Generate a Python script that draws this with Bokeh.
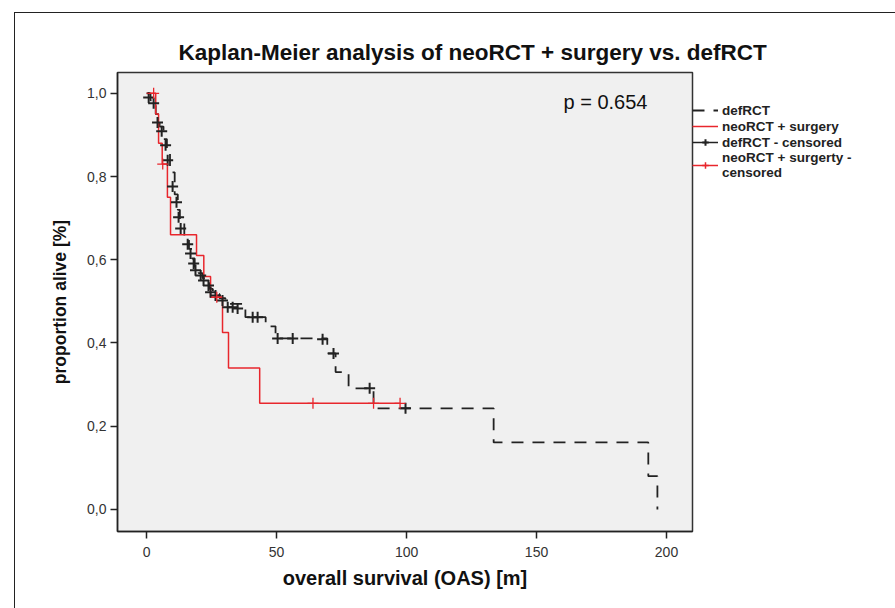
from bokeh.plotting import figure
from bokeh.models import (Range1d, FixedTicker, Label, Legend, LegendItem, InlineStyleSheet)
from bokeh.embed import file_html
from bokeh.resources import INLINE

# ---------------- data ----------------
title_text = "Kaplan-Meier analysis of neoRCT + surgery vs. defRCT"
x_label = "overall survival (OAS) [m]"
y_label = "proportion alive [%]"
p_text = "p = 0.654"

x_ticks = [0, 50, 100, 150, 200]
y_ticks = [0.0, 0.2, 0.4, 0.6, 0.8, 1.0]
y_tick_labels = ["0,0", "0,2", "0,4", "0,6", "0,8", "1,0"]

# defRCT step curve (time, survival after event)
def_t = [0, 1.5, 3.5, 5.0, 6.5, 7.8, 9.0, 10.8, 12.0, 12.8, 14.5, 16.3, 17.5, 18.5,
         20.0, 21.5, 23.0, 24.2, 25.5, 28.0, 30.3, 38.0, 45.8, 49.6, 69.5, 72.7,
         77.7, 87.3, 133.5, 193.0, 196.5]
def_s = [1.0, 0.983, 0.95, 0.92, 0.89, 0.857, 0.81, 0.757, 0.72, 0.69, 0.656, 0.626,
         0.603, 0.583, 0.568, 0.556, 0.544, 0.53, 0.518, 0.508, 0.494, 0.462, 0.44,
         0.411, 0.375, 0.33, 0.291, 0.243, 0.161, 0.08, 0.0]
# defRCT censored
def_ct = [0.8, 2.7, 4.2, 5.8, 7.3, 8.1, 10.0, 11.5, 12.3, 13.1, 15.8, 16.9, 18.1, 18.8,
          20.8, 21.9, 23.8, 24.6, 26.5, 29.2, 31.2, 33.1, 35.0, 40.8, 42.7, 50.4,
          56.2, 67.7, 71.9, 85.8, 99.6]
def_cs = [0.99, 0.976, 0.93, 0.909, 0.875, 0.839, 0.776, 0.738, 0.702, 0.675, 0.637,
          0.615, 0.591, 0.575, 0.562, 0.55, 0.538, 0.522, 0.514, 0.502, 0.486, 0.486,
          0.483, 0.462, 0.462, 0.411, 0.411, 0.409, 0.375, 0.291, 0.243]

# neoRCT + surgery step curve
neo_t = [0, 3.5, 4.6, 6.0, 8.0, 9.2, 19.2, 22.0, 24.6, 29.2, 31.5, 43.5, 97.5]
neo_s = [1.0, 0.95, 0.88, 0.83, 0.75, 0.66, 0.61, 0.56, 0.51, 0.425, 0.34, 0.255, 0.255]
# neoRCT + surgery censored
neo_ct = [2.7, 6.2, 27.0, 64.0, 87.3, 97.5]
neo_cs = [1.0, 0.83, 0.51, 0.255, 0.255, 0.255]

legend_labels = ["defRCT", "neoRCT + surgery", "defRCT - censored",
                 "neoRCT + surgerty -\ncensored"]

# ---------------- figure ----------------
border_css = InlineStyleSheet(css="""
:host::after {
  content: "";
  position: absolute;
  left: 14px; top: 12px; right: -40px; bottom: -40px;
  border-left: 1.5px solid #222;
  border-top: 1.5px solid #222;
  pointer-events: none;
  z-index: 10;
}
""")

BLACK = "#222222"
RED = "#e8262c"

p = figure(frame_width=575, frame_height=459, output_backend="svg",
           toolbar_location=None,
           x_range=Range1d(-11.2, 210), y_range=Range1d(-0.053, 1.05),
           min_border_left=117, min_border_right=195, min_border_top=72,
           min_border_bottom=69, background_fill_color="#f0f0f0",
           border_fill_color="white", outline_line_color="#333333",
           outline_line_width=1.5, stylesheets=[border_css])
p.grid.visible = False

p.title.text = title_text
p.title.align = "left"
p.title.offset = 61
p.title.text_font = "Liberation Sans"
p.title.text_font_style = "bold"
p.title.text_font_size = "22.5px"
p.title.text_color = "#111111"
p.title.standoff = 16

p.xaxis.ticker = FixedTicker(ticks=x_ticks)
p.yaxis.ticker = FixedTicker(ticks=y_ticks)
p.yaxis.major_label_overrides = {t: l for t, l in zip(y_ticks, y_tick_labels)}
for ax in (p.xaxis, p.yaxis):
    ax.axis_line_color = BLACK
    ax.axis_line_width = 1.5
    ax.major_tick_line_color = BLACK
    ax.major_tick_line_width = 1.5
    ax.major_tick_out = 7
    ax.major_tick_in = 0
    ax.minor_tick_line_color = None
    ax.major_label_text_font = "Liberation Sans"
    ax.major_label_text_font_size = "14px"
    ax.major_label_text_color = "#333333"
    ax.axis_label_text_font = "Liberation Sans"
    ax.axis_label_text_font_style = "bold"
    ax.axis_label_text_color = "#111111"
p.xaxis.axis_label = x_label
p.yaxis.axis_label = y_label
p.xaxis.axis_label_text_font_size = "20px"
p.yaxis.axis_label_text_font_size = "17.5px"
p.xaxis.major_label_standoff = 8
p.yaxis.major_label_standoff = 4
p.xaxis.axis_label_standoff = 7
p.yaxis.axis_label_standoff = 14

r_def = p.step(def_t, def_s, mode="after", line_color=BLACK, line_width=1.8,
               line_dash="12 9")
r_neo = p.step(neo_t, neo_s, mode="after", line_color=RED, line_width=1.5)
r_defc = p.scatter(def_ct, def_cs, marker="cross", size=11, line_color=BLACK,
                   line_width=2)
r_neoc = p.scatter(neo_ct, neo_cs, marker="cross", size=11, line_color=RED,
                   line_width=1.3)

# legend-only renderers (placed outside the visible ranges)
d_black = p.line([-100, -99], [-10, -10], line_color=BLACK, line_width=1.5)
d_red = p.line([-100, -99], [-10, -10], line_color=RED, line_width=1.5)
d_bc = p.scatter([-100], [-10], marker="cross", size=11, line_color=BLACK, line_width=2)
d_rc = p.scatter([-100], [-10], marker="cross", size=11, line_color=RED, line_width=1.5)

legend = Legend(items=[
    LegendItem(label=legend_labels[0], renderers=[r_def]),
    LegendItem(label=legend_labels[1], renderers=[r_neo]),
    LegendItem(label=legend_labels[2], renderers=[d_black, d_bc]),
    LegendItem(label=legend_labels[3], renderers=[d_red, d_rc]),
], location=(0, 351), background_fill_alpha=0, border_line_color=None,
   label_text_font="Liberation Sans", label_text_font_size="13.5px",
   label_text_font_style="bold", label_text_color=BLACK,
   glyph_width=26, glyph_height=16, label_standoff=4, spacing=0, padding=0,
   margin=0, label_height=12, label_text_line_height=0.85)
p.add_layout(legend, "right")

p.add_layout(Label(x=446, y=430, x_units="screen", y_units="screen", text=p_text,
                   text_align="left", text_baseline="middle",
                   text_font="Liberation Sans", text_font_size="20px",
                   text_color="#111111"))

open("out.html", "w").write(file_html(p, INLINE))
